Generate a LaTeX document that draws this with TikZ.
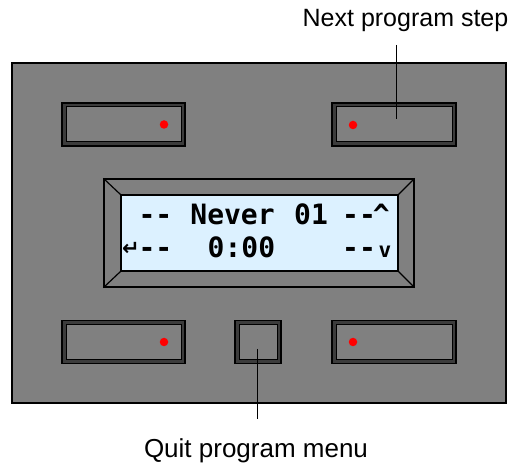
\documentclass[tikz,border=0pt]{standalone}
\usepackage{fontspec}
\setmainfont{Liberation Sans}
\newfontfamily\lcdfont{DejaVu Sans Mono}
\newfontfamily\symfont{DejaVu Sans}
\definecolor{panelgray}{HTML}{808080}
\definecolor{btndark}{HTML}{3C3C3C}
\definecolor{lcdblue}{HTML}{DCF1FF}
\begin{document}
\begin{tikzpicture}[x=1pt,y=-1pt,
  panel/.style={draw=black,line width=1.6pt,fill=panelgray,inner sep=0pt,minimum width=494pt,minimum height=340pt},
  btnout/.style={draw=black,line width=1.6pt,fill=btndark,inner sep=0pt,minimum height=43pt},
  btnin/.style={draw=black,line width=1pt,fill=panelgray,inner sep=0pt,minimum height=35pt},
  bezel/.style={draw=black,line width=1.2pt,fill=panelgray,inner sep=0pt,minimum width=310pt,minimum height=108pt},
  lcd/.style={draw=black,line width=1.2pt,fill=lcdblue,inner sep=0pt,minimum width=277pt,minimum height=76pt},
  lcdtxt/.style={inner sep=0pt,anchor=base west,font=\lcdfont\bfseries\fontsize{28}{28}\selectfont},
  dot/.style={circle,fill=red,inner sep=0pt,minimum size=8.5pt},
  lbl/.style={inner sep=0pt,anchor=base,font=\fontsize{25}{30}\selectfont},
  leader/.style={draw=black,line width=0.8pt}]
\useasboundingbox (0,0) rectangle (523,468);
% panel
\node[panel] (panel) at (259,233) {};
% buttons
\node[btnout,minimum width=123pt] (btl) at (123.5,124.5) {};
\node[btnin,minimum width=115pt] (btlin) at (btl.center) {};
\node[btnout,minimum width=124pt] (btr) at (394,124.5) {};
\node[btnin,minimum width=116pt] (btrin) at (btr.center) {};
\node[btnout,minimum width=123pt] (bbl) at (123.5,342) {};
\node[btnin,minimum width=115pt] (bblin) at (bbl.center) {};
\node[btnout,minimum width=46pt] (bbm) at (258,342) {};
\node[btnin,minimum width=38pt] (bbmin) at (bbm.center) {};
\node[btnout,minimum width=124pt] (bbr) at (394,342) {};
\node[btnin,minimum width=116pt] (bbrin) at (bbr.center) {};
% red dots
\node[dot] (d1) at (164,124.5) {};
\node[dot] (d2) at (353,125) {};
\node[dot] (d3) at (164,342) {};
\node[dot] (d4) at (353,342) {};
% display
\node[bezel] (bez) at (259,233) {};
\node[lcd] (lcd) at (259.5,233) {};
\draw[line width=1.2pt] (bez.north west) -- (lcd.north west);
\draw[line width=1.2pt] (bez.north east) -- (lcd.north east);
\draw[line width=1.2pt] (bez.south west) -- (lcd.south west);
\draw[line width=1.2pt] (bez.south east) -- (lcd.south east);
% LCD text
\node[lcdtxt] (l1a) at (138.3,225) {--};
\node[lcdtxt] (l1b) at (190.2,225) {Never};
\node[lcdtxt] (l1c) at (294,225) {01};
\node[lcdtxt] (l1d) at (342,225) {--\kern-3pt\^{}};
\node[inner sep=0pt,anchor=base west,font=\symfont\bfseries\fontsize{21}{21}\selectfont] (l2ret) at (122,256) {↵};
\node[lcdtxt] (l2a) at (138.3,257.5) {--};
\node[lcdtxt] (l2b) at (207.5,257.5) {0:00};
\node[lcdtxt] (l2c) at (342,257.5) {--};
\node[inner sep=0pt,anchor=base,font=\lcdfont\bfseries\fontsize{21}{21}\selectfont] (l2v) at (385,257.5) {v};
% labels
\node[lbl] (next) at (405.5,27) {Next program step};
\node[lbl,font=\fontsize{26}{30}\selectfont] (quit) at (256,457) {Quit program menu};
\coordinate (n1) at (396,45);
\coordinate (n2) at (396,119);
\coordinate (q1) at (257,349);
\coordinate (q2) at (257,419);
\draw[leader] (n1) -- (n2);
\draw[leader] (q1) -- (q2);
\end{tikzpicture}
\end{document}
